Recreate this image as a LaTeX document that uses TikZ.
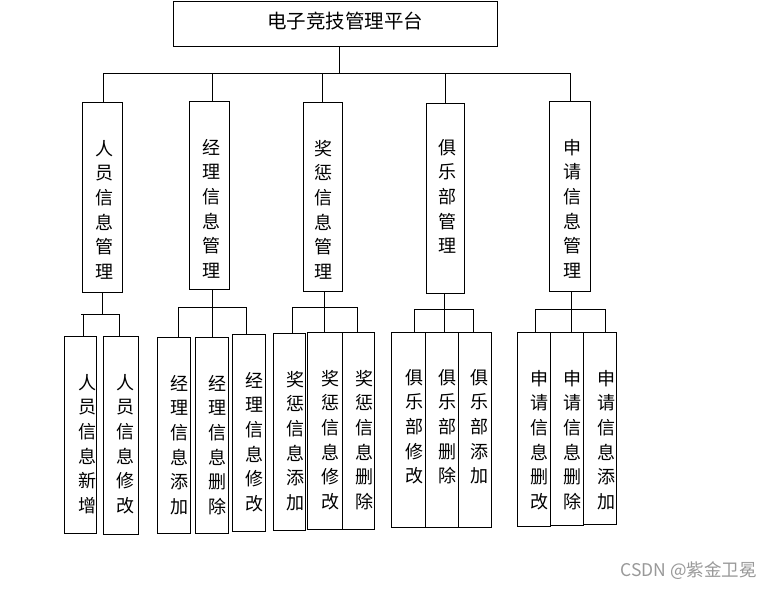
\documentclass[tikz,border=0pt]{standalone}
\usepackage{fontspec}
\setmainfont{Noto Sans CJK SC}
\begin{document}
\begin{tikzpicture}[x=1pt,y=-1pt,
  box/.style={draw,line width=1pt,inner sep=0pt},
  vt/.style={inner sep=0pt,anchor=north,align=center,font=\fontsize{18}{24.6}\selectfont},
  ln/.style={line width=1pt}]
\useasboundingbox (0,0) rectangle (772,589);
\fill[white] (0,0) rectangle (772,589);
% top
\node[box,minimum width=324pt,minimum height=45pt] (top) at (335,23.5) {};
\node[inner sep=0pt,font=\fontsize{19.5}{19.5}\selectfont] (title) at (345,21) {电子竞技管理平台};
% level 2
\node[box,minimum width=40pt,minimum height=190pt] (a1) at (102,197) {};
\node[box,minimum width=40pt,minimum height=188pt] (a2) at (209,195) {};
\node[box,minimum width=39pt,minimum height=189pt] (a3) at (322.5,196.5) {};
\node[box,minimum width=38pt,minimum height=190pt] (a4) at (445,198) {};
\node[box,minimum width=41pt,minimum height=190pt] (a5) at (569.5,196) {};
\node[vt] (a1t) at (104,140) {人\\员\\信\\息\\管\\理};
\node[vt] (a2t) at (211,139) {经\\理\\信\\息\\管\\理};
\node[vt] (a3t) at (323,140) {奖\\惩\\信\\息\\管\\理};
\node[vt] (a4t) at (447,139) {俱\\乐\\部\\管\\理};
\node[vt] (a5t) at (572,139) {申\\请\\信\\息\\管\\理};
% leaves
\node[box,minimum width=32pt,minimum height=197pt] (l11) at (80,434.5) {};
\node[box,minimum width=35pt,minimum height=198pt] (l12) at (120.5,435) {};
\node[box,minimum width=33pt,minimum height=196pt] (l21) at (173.5,435) {};
\node[box,minimum width=33pt,minimum height=196pt] (l22) at (211.5,435) {};
\node[box,minimum width=33pt,minimum height=197pt] (l23) at (248.5,432.5) {};
\node[box,minimum width=32pt,minimum height=197pt] (l31) at (289,431.5) {};
\node[box,minimum width=35pt,minimum height=197pt] (l32) at (324.5,430.5) {};
\node[box,minimum width=32pt,minimum height=197pt] (l33) at (358,430.5) {};
\node[box,minimum width=34pt,minimum height=195pt] (l41) at (408,429.5) {};
\node[box,minimum width=33pt,minimum height=195pt] (l42) at (441.5,429.5) {};
\node[box,minimum width=33pt,minimum height=195pt] (l43) at (474.5,429.5) {};
\node[box,minimum width=33pt,minimum height=194pt] (l51) at (533.5,429) {};
\node[box,minimum width=33pt,minimum height=193pt] (l52) at (566.5,428.5) {};
\node[box,minimum width=33pt,minimum height=192pt] (l53) at (599.5,428) {};
\node[vt] (l11t) at (87,374) {人\\员\\信\\息\\新\\增};
\node[vt] (l12t) at (125,374) {人\\员\\信\\息\\修\\改};
\node[vt] (l21t) at (179,375) {经\\理\\信\\息\\添\\加};
\node[vt] (l22t) at (217,375) {经\\理\\信\\息\\删\\除};
\node[vt] (l23t) at (254,372) {经\\理\\信\\息\\修\\改};
\node[vt] (l31t) at (295,371) {奖\\惩\\信\\息\\添\\加};
\node[vt] (l32t) at (330,370) {奖\\惩\\信\\息\\修\\改};
\node[vt] (l33t) at (364,370) {奖\\惩\\信\\息\\删\\除};
\node[vt] (l41t) at (414,369) {俱\\乐\\部\\修\\改};
\node[vt] (l42t) at (447,369) {俱\\乐\\部\\删\\除};
\node[vt] (l43t) at (479,369) {俱\\乐\\部\\添\\加};
\node[vt] (l51t) at (539,370) {申\\请\\信\\息\\删\\改};
\node[vt] (l52t) at (572,370) {申\\请\\信\\息\\删\\除};
\node[vt] (l53t) at (606,370) {申\\请\\信\\息\\添\\加};
% top bus
\draw[ln] ([xshift=4pt]top.south) -- ++(0,27) coordinate (bus);
\draw[ln] ([xshift=1pt]a1.north) -- ([xshift=1pt]a1.north |- bus) -- ([xshift=1pt]a5.north |- bus) -- ([xshift=1pt]a5.north);
\draw[ln] ([xshift=3pt]a2.north) -- ([xshift=3pt]a2.north |- bus);
\draw[ln] (a3.north) -- (a3.north |- bus);
\draw[ln] (a4.north) -- (a4.north |- bus);
% group 1
\draw[ln] (a1.south) -- ++(0,22) coordinate (g1);
\draw[ln] ([xshift=3pt]l11.north) -- ([xshift=3pt]l11.north |- g1);
\draw[ln] ([xshift=1pt]l11.north |- g1) -- ([xshift=-1.5pt]l12.north |- g1) -- ([xshift=-1.5pt]l12.north);
% group 2
\draw[ln] ([xshift=3pt]a2.south) -- ++(0,18) coordinate (g2);
\draw[ln] ([xshift=4.5pt]l21.north) -- ([xshift=4.5pt]l21.north |- g2) -- ([xshift=-2.5pt]l23.north |- g2) -- ([xshift=-2.5pt]l23.north);
\draw[ln] (g2) -- (g2 |- l22.north);
% group 3
\draw[ln] ([xshift=1.5pt]a3.south) -- ++(0,16) coordinate (g3);
\draw[ln] ([xshift=3pt]l31.north) -- ([xshift=3pt]l31.north |- g3) -- ([xshift=-1pt]l33.north |- g3) -- ([xshift=-1pt]l33.north);
\draw[ln] (g3) -- (g3 |- l32.north);
% group 4
\draw[ln] ([xshift=-1pt]a4.south) -- ++(0,16) coordinate (g4);
\draw[ln] ([xshift=6pt]l41.north) -- ([xshift=6pt]l41.north |- g4) -- ([xshift=-1.5pt]l43.north |- g4) -- ([xshift=-1.5pt]l43.north);
\draw[ln] (g4) -- (g4 |- l42.north);
% group 5
\draw[ln] ([xshift=1.5pt]a5.south) -- ++(0,18) coordinate (g5);
\draw[ln] ([xshift=1.5pt]l51.north) -- ([xshift=1.5pt]l51.north |- g5) -- ([xshift=5.5pt]l53.north |- g5) -- ([xshift=5.5pt]l53.north);
\draw[ln] (g5) -- (g5 |- l52.north);
% watermark
\node[inner sep=0pt,anchor=east,text=black!40,font=\fontsize{17.5}{17.5}\selectfont] (wm) at (757,571) {CSDN @紫金卫冕};
\end{tikzpicture}
\end{document}
